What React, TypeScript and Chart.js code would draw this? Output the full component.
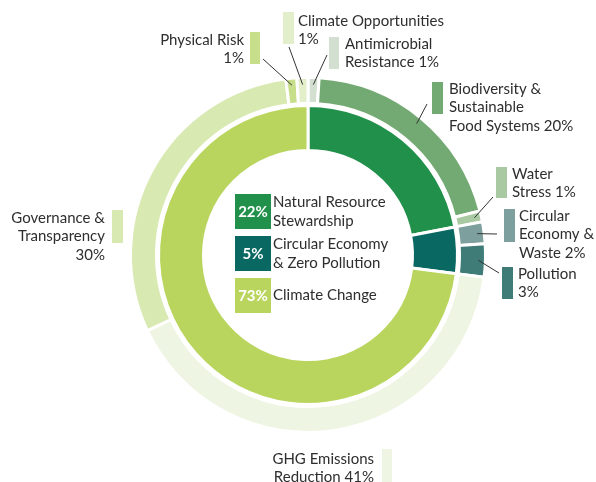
import React, { useEffect, useRef } from "react";
import { Chart, registerables } from "chart.js";
Chart.register(...registerables);

// ---- data ----
const outerLabels = [
  "Antimicrobial Resistance",
  "Biodiversity & Sustainable Food Systems",
  "Water Stress",
  "Circular Economy & Waste",
  "Pollution",
  "GHG Emissions Reduction",
  "Governance & Transparency",
  "Physical Risk",
  "Climate Opportunities",
];
const outerValues = [1, 20, 1, 2, 3, 41, 30, 1, 1];
const outerColors = ["#d3e0d1", "#73a972", "#a9c9a3", "#7d9f9d", "#3f7c78", "#eef5e2", "#d9e9b2", "#c7de8b", "#e3eecb"];
// text lines of each outer label; {v} is replaced by the value
const outerLabelLines = [
  ["Antimicrobial", "Resistance {v}"],
  ["Biodiversity &", "Sustainable", "Food Systems {v}"],
  ["Water", "Stress {v}"],
  ["Circular", "Economy &", "Waste {v}"],
  ["Pollution", "{v}"],
  ["GHG Emissions", "Reduction {v}"],
  ["Governance &", "Transparency", "{v}"],
  ["Physical Risk", "{v}"],
  ["Climate Opportunities", "{v}"],
];

const innerLabels = ["Natural Resource Stewardship", "Circular Economy & Zero Pollution", "Climate Change"];
const innerValues = [22, 5, 73];
const innerColors = ["#20904a", "#0a6862", "#b9d55e"];
const innerLabelLines = [
  ["Natural Resource", "Stewardship"],
  ["Circular Economy", "& Zero Pollution"],
  ["Climate Change"],
];

// ---- label layout (annotation placement) ----
type LabelBox = { bar: [number, number, number, number]; tx: number; align: "left" | "right"; y0: number; leader: [number, number] | null };
const outerLabelLayout: LabelBox[] = [
  { bar: [329, 37, 10, 32], tx: 345, align: "left", y0: 44, leader: [327, 55] },
  { bar: [432, 82, 11, 32], tx: 449, align: "left", y0: 89, leader: [427, 104] },
  { bar: [496, 167, 11, 31], tx: 512, align: "left", y0: 174, leader: [493, 197] },
  { bar: [504, 209, 11, 33], tx: 519, align: "left", y0: 216, leader: [497, 234] },
  { bar: [502, 267, 11, 32], tx: 518, align: "left", y0: 274, leader: [499, 273] },
  { bar: [382, 449, 10, 33], tx: 374, align: "right", y0: 459, leader: null },
  { bar: [112, 210, 11, 33], tx: 105, align: "right", y0: 218, leader: null },
  { bar: [250, 32, 10, 32], tx: 244, align: "right", y0: 40, leader: [263, 59] },
  { bar: [283, 12, 11, 32], tx: 298, align: "left", y0: 21, leader: [289, 47] },
];
const centerLegend = { x: 235, w: 36, h: 35, ys: [194, 236, 278], tx: 273 };

const FONT = "Lato, 'Open Sans', sans-serif";
const LINE_H = 18.5;

const labelPlugin = {
  id: "labels",
  afterDraw(chart: any) {
    const ctx: CanvasRenderingContext2D = chart.ctx;
    const meta = chart.getDatasetMeta(0);
    ctx.save();
    ctx.font = `15px ${FONT}`;
    ctx.textBaseline = "middle";
    outerLabelLayout.forEach((lay, i) => {
      ctx.fillStyle = outerColors[i];
      ctx.fillRect(lay.bar[0], lay.bar[1], lay.bar[2], lay.bar[3]);
      ctx.fillStyle = "#2e2e2e";
      ctx.textAlign = lay.align;
      outerLabelLines[i].forEach((ln, k) => {
        ctx.fillText(ln.replace("{v}", outerValues[i] + "%"), lay.tx, lay.y0 + k * LINE_H);
      });
      if (lay.leader) {
        const el = meta.data[i];
        const p = el.getProps(["x", "y", "startAngle", "endAngle", "outerRadius"], true);
        const a = (p.startAngle + p.endAngle) / 2;
        const r = p.outerRadius - 7;
        ctx.strokeStyle = "#333333";
        ctx.lineWidth = 1;
        ctx.beginPath();
        ctx.moveTo(lay.leader[0], lay.leader[1]);
        ctx.lineTo(p.x + Math.cos(a) * r, p.y + Math.sin(a) * r);
        ctx.stroke();
      }
    });
    innerLabels.forEach((_, i) => {
      const y = centerLegend.ys[i];
      ctx.fillStyle = innerColors[i];
      ctx.fillRect(centerLegend.x, y, centerLegend.w, centerLegend.h);
      ctx.fillStyle = "#ffffff";
      ctx.textAlign = "center";
      ctx.font = `bold 15px ${FONT}`;
      ctx.fillText(innerValues[i] + "%", centerLegend.x + centerLegend.w / 2, y + centerLegend.h / 2 + 1);
      ctx.fillStyle = "#2e2e2e";
      ctx.textAlign = "left";
      ctx.font = `15px ${FONT}`;
      const lines = innerLabelLines[i];
      const start = y + centerLegend.h / 2 - ((lines.length - 1) * LINE_H) / 2;
      lines.forEach((ln, k) => ctx.fillText(ln, centerLegend.tx, start + k * LINE_H));
    });
    ctx.restore();
  },
};

export default function App() {
  const ref = useRef<HTMLCanvasElement | null>(null);
  useEffect(() => {
    if (!ref.current) return;
    const chart = new Chart(ref.current, {
      type: "doughnut",
      data: {
        labels: outerLabels,
        datasets: [
          { data: outerValues, backgroundColor: outerColors, borderColor: "#ffffff", borderWidth: 3, weight: 26 },
          { data: [1], backgroundColor: "rgba(0,0,0,0)", borderWidth: 0, weight: 2 },
          { data: innerValues, backgroundColor: innerColors, borderColor: "#ffffff", borderWidth: 3, weight: 45 },
        ],
      } as any,
      options: {
        responsive: false,
        devicePixelRatio: 1,
        animation: false,
        cutout: 104.5,
        layout: { padding: { left: 129, right: 109, top: 76, bottom: 48 } },
        plugins: { legend: { display: false }, tooltip: { enabled: false } },
      } as any,
      plugins: [labelPlugin],
    });
    return () => chart.destroy();
  }, []);
  return (
    <div style={{ position: "fixed", left: 0, top: 0, width: 596, height: 482, background: "#fff" }}>
      <canvas ref={ref} width={596} height={482} style={{ display: "block" }} />
    </div>
  );
}
